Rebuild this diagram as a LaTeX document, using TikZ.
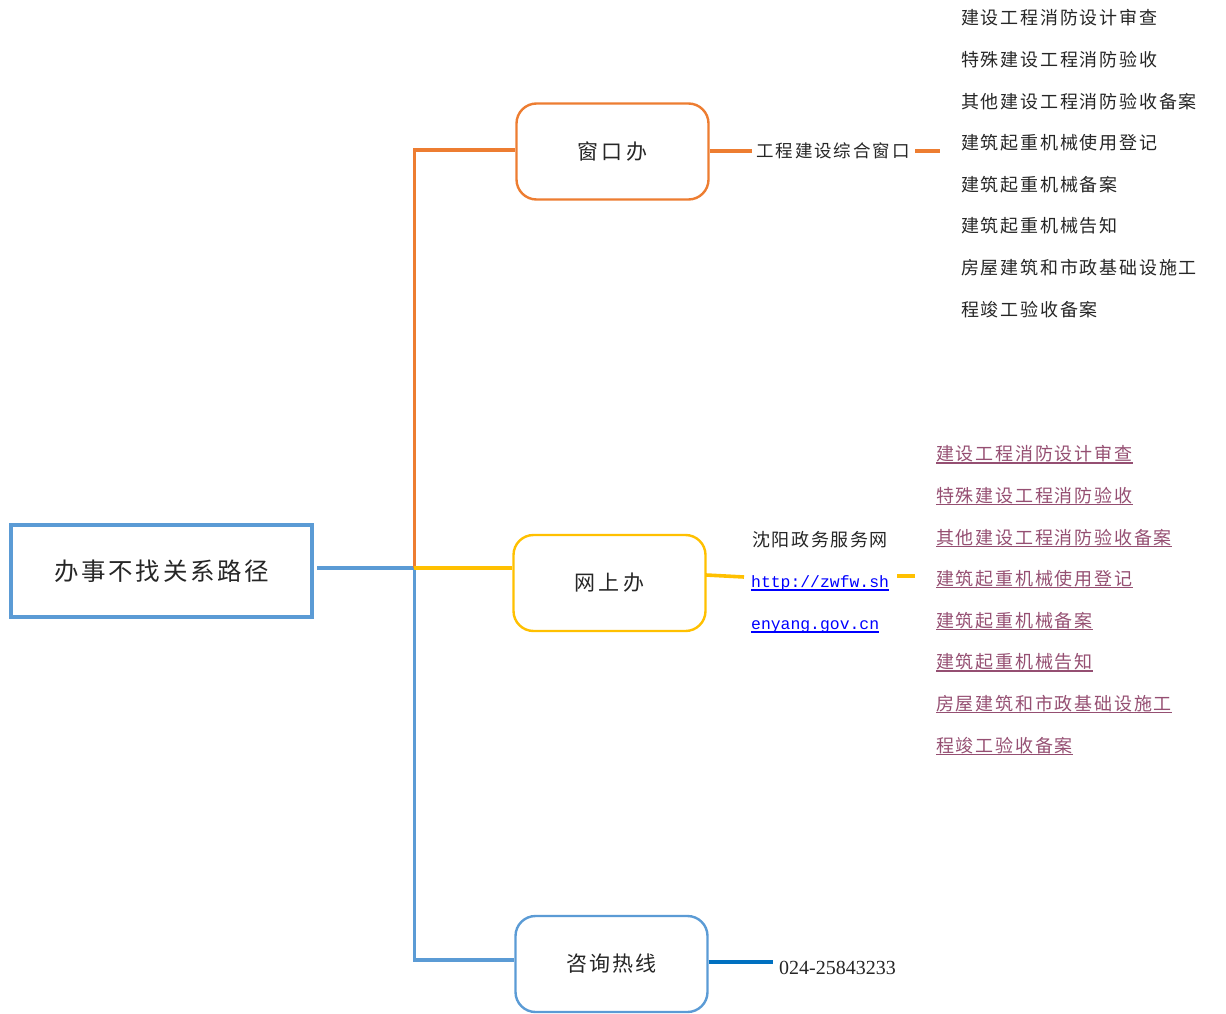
\documentclass[tikz,border=0pt]{standalone}
\usepackage{fontspec}
\setmainfont{Liberation Serif}
\newfontfamily\cjk{Noto Sans CJK SC}
\newfontfamily\monofam{Liberation Mono}
\definecolor{cOrange}{HTML}{ED7D31}
\definecolor{cYellow}{HTML}{FFC000}
\definecolor{cBlue}{HTML}{5B9BD5}
\definecolor{cDark}{HTML}{0070C0}
\definecolor{cPurple}{HTML}{954F72}
\definecolor{cLink}{HTML}{0000FF}
\definecolor{cText}{HTML}{262626}
\begin{document}
\begin{tikzpicture}[x=1pt,y=-1pt,
  box/.style={draw, rounded corners=20pt, line width=2.4pt, minimum width=192pt, minimum height=96pt, inner sep=0pt, text=cText},
  boxfont/.style={font=\cjk\fontsize{21}{24}\selectfont\addfontfeature{LetterSpace=#1}},
  conn/.style={line width=3.6pt},
  tx/.style={inner sep=0pt, anchor=west, text=cText, font=\cjk\fontsize{18}{20}\selectfont\addfontfeature{LetterSpace=10}},
  lk/.style={inner sep=0pt, anchor=west, text=cPurple, font=\cjk\fontsize{18}{20}\selectfont\addfontfeature{LetterSpace=10}},
  url/.style={inner sep=0pt, anchor=base west, text=cLink, font=\monofam\fontsize{16.4}{18}\selectfont}
]
\useasboundingbox (0,0) rectangle (1226,1014);

% root
\node[draw=cBlue, line width=4pt, minimum width=301pt, minimum height=92pt, inner sep=0pt, text=cText,
      font=\cjk\fontsize{24.5}{28}\selectfont\addfontfeature{LetterSpace=11}] (root) at (161.7,571) {办事不找关系路径};

% branch boxes
\node[box, draw=cOrange, boxfont=15] (b1) at (612.5,151.5) {窗口办};
\node[box, draw=cYellow, boxfont=15] (b2) at (609.5,583) {网上办};
\node[box, draw=cBlue, boxfont=10] (b3) at (611.5,964) {咨询热线};

\coordinate (J) at (414.3,568);

% spine
\draw[conn, cBlue, shorten <=3pt] (root.east |- J) -- (J);
\draw[conn, cBlue] (J) |- ([yshift=4pt]b3.west);
\draw[conn, cOrange] (J) |- ([yshift=1.5pt]b1.west);
\draw[conn, cYellow] (J) -- (J -| b2.west);

% window branch
\node[tx, font=\cjk\fontsize{17.5}{20}\selectfont\addfontfeature{LetterSpace=11}] (w1) at (756,151) {工程建设综合窗口};
\coordinate (w1in) at (752,151);
\draw[cOrange, line width=4pt] (b1.east |- w1in) -- (w1in);
\coordinate (w1end) at (940,151);
\draw[conn, cOrange] (915,151) -- (w1end);
\foreach \t [count=\i] in {建设工程消防设计审查,特殊建设工程消防验收,其他建设工程消防验收备案,建筑起重机械使用登记,建筑起重机械备案,建筑起重机械告知,房屋建筑和市政基础设施工,程竣工验收备案}{
  \node[tx] (a\i) at (961,{18+41.6*(\i-1)}) {\t};
}

% online branch
\node[tx, font=\cjk\fontsize{18}{20}\selectfont\addfontfeature{LetterSpace=9}] (o1) at (752,540) {沈阳政务服务网};
\node[url] (o2) at (751,587) {http://zwfw.sh};
\node[url] (o3) at (751,629) {enyang.gov.cn};
\draw[cLink, line width=1.2pt] ([yshift=-3pt]o2.base west) -- ([yshift=-3pt]o2.base east);
\draw[cLink, line width=1.2pt] ([yshift=-3pt]o3.base west) -- ([yshift=-3pt]o3.base east);
\coordinate (o2in) at (744,577);
\draw[conn, cYellow] (706,575) -- (o2in);
\coordinate (o2end) at (915,576);
\draw[conn, cYellow] (897,576) -- (o2end);
\foreach \t [count=\i] in {建设工程消防设计审查,特殊建设工程消防验收,其他建设工程消防验收备案,建筑起重机械使用登记,建筑起重机械备案,建筑起重机械告知,房屋建筑和市政基础设施工,程竣工验收备案}{
  \node[lk] (c\i) at (936,{454+41.6*(\i-1)}) {\t};
  \draw[cPurple, line width=1.2pt] ([yshift=-9pt]c\i.west) -- ([yshift=-9pt]c\i.east);
}

% hotline branch
\node[inner sep=0pt, anchor=base west, text=cText, font=\fontsize{20}{22}\selectfont] (h1) at (779,974) {024-25843233};
\coordinate (h1in) at (773,962);
\draw[conn, cDark] (b3.east |- h1in) -- (h1in);
\end{tikzpicture}
\end{document}
